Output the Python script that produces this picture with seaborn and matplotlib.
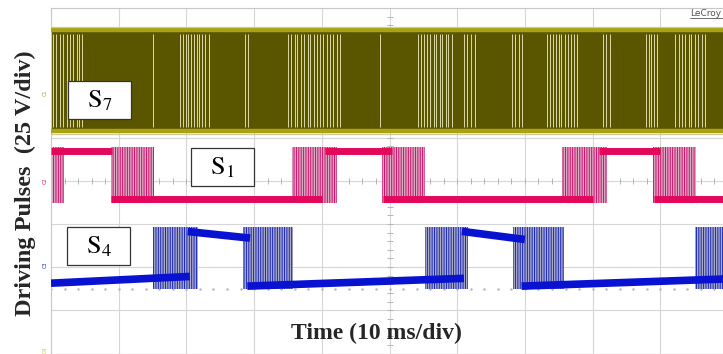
import numpy as np
import pandas as pd
import seaborn as sns
import matplotlib.pyplot as plt
from matplotlib.patches import Rectangle
from matplotlib.lines import Line2D

# scope screen: 10 ms/div x 10 div, 25 V/div x 8 div
t_lim = [0, 100]
v_lim = [-100, 100]

# S7 - dense PWM, looks like a filled band
s7_low, s7_high = 29.0, 87.0
s7_gaps = [0.3, 0.8, 1.3, 1.8, 2.3, 2.8, 3.3, 3.8, 4.2, 4.6,
           15.1,
           19.1, 19.5, 19.9, 20.3, 20.7, 21.1, 21.5, 21.9, 22.3, 22.8, 23.4,
           28.7, 29.1,
           35.0, 35.5, 36.0, 36.4, 36.9, 37.4, 37.9, 38.3, 38.8, 39.3, 39.8,
           40.2, 40.7, 41.2, 41.7, 42.2, 42.7,
           48.6,
           54.2, 54.7, 55.1, 55.6, 56.0, 56.5, 56.9, 57.4, 57.8, 58.3, 58.7, 59.2,
           61.0, 61.5, 62.1, 62.6,
           68.1, 68.6, 69.1, 69.6,
           73.3, 73.7, 74.1, 74.6, 75.0, 75.4, 75.9, 76.3, 76.8, 77.2, 77.7,
           81.5, 82.0, 82.6,
           87.9, 88.3, 88.7, 89.1, 89.5,
           92.2, 92.7, 93.2, 93.7, 94.2, 94.6, 95.1, 95.6, 96.1, 96.6]

# S1 - steady levels (segments) and switching windows
s1_t0 = [0.0, 8.9, 40.5, 49.0, 81.0, 89.0]
s1_t1 = [9.0, 40.0, 50.4, 80.0, 90.0, 100.0]
s1_v0 = [17.5, -10.5, 17.5, -10.5, 17.5, -10.5]
s1_v1 = [17.5, -10.5, 17.5, -10.5, 17.5, -10.5]
s1_sw_start = [0.0, 8.9, 35.6, 48.9, 75.5, 88.9]
s1_sw_end = [1.9, 15.2, 42.2, 55.2, 82.1, 95.3]
s1_sw_lo, s1_sw_hi = -13.0, 19.5

# S4 - sloped levels and switching windows
s4_t0 = [0.0, 20.2, 29.0, 60.7, 69.5]
s4_t1 = [20.5, 29.4, 61.0, 70.0, 100.0]
s4_v0 = [-59.3, -29.4, -61.0, -29.3, -61.0]
s4_v1 = [-55.4, -33.2, -56.5, -34.0, -56.8]
s4_sw_start = [15.1, 28.4, 55.2, 68.2, 95.1]
s4_sw_end = [21.7, 35.7, 61.6, 75.8, 100.0]
s4_sw_lo, s4_sw_hi = -62.5, -26.5


def segments(t0, t1, v0, v1):
    rows = []
    for i, (a, b, c, d) in enumerate(zip(t0, t1, v0, v1)):
        rows.append({'seg': i, 't': a, 'v': c})
        rows.append({'seg': i, 't': b, 'v': d})
    return pd.DataFrame(rows)


sns.set_style('white')
plt.rcParams['mathtext.fontset'] = 'stix'
plt.rcParams['hatch.linewidth'] = 0.7

fig = plt.figure(figsize=(7.23, 3.54), dpi=100)
ax = fig.add_axes([51 / 723, 0.5 / 354, 677 / 723, 345.5 / 354])
ax.set_xlim(t_lim)
ax.set_ylim(v_lim)
ax.set_xticks(np.arange(0, 101, 10))
ax.set_yticks(np.arange(-100, 101, 25))
ax.tick_params(length=0, labelbottom=False, labelleft=False)
ax.grid(True, color='#d6d6d6', lw=0.8)
ax.set_axisbelow(True)
for s in ax.spines.values():
    s.set_color('#c8c8c8')
    s.set_linewidth(0.8)

# graticule centre lines with minor ticks
ax.plot(np.arange(0, 101, 2), np.zeros(51), ls='none', marker='|', ms=4,
        mew=0.7, color='#b4b4b4', zorder=1)
ax.plot(np.full(41, 50), np.arange(-100, 101, 5), ls='none', marker='_', ms=4,
        mew=0.7, color='#b4b4b4', zorder=1)
ax.plot(np.arange(0, 101, 2), np.full(51, -62.5), ls='none', marker='.', ms=1.5,
        color='#b4b4b4', zorder=1)

# S7 band
ax.fill_between(t_lim, s7_low, s7_high, color='#5a5600', lw=0, zorder=2)
ax.vlines(s7_gaps, s7_low + 2, s7_high - 2, color='#dcd9a6', lw=0.7, zorder=3)
ax.hlines([s7_high, s7_low], 0, 100, color='#a9a212', lw=3.2, zorder=3)
ax.hlines([s7_high + 2.0, s7_low - 2.0], 0, 100, color='#cfcc9a', lw=0.9, zorder=3)

# S1
for a, b in zip(s1_sw_start, s1_sw_end):
    ax.fill_between([a, b], s1_sw_lo, s1_sw_hi, facecolor='#ddaac3',
                    edgecolor='#c8106a', hatch='|' * 7, lw=0, zorder=2)
sns.lineplot(data=segments(s1_t0, s1_t1, s1_v0, s1_v1), x='t', y='v', units='seg',
             estimator=None, sort=False, color='#e4085c', lw=5.0, ax=ax,
             legend=False, zorder=4, solid_capstyle='butt')

# S4
for a, b in zip(s4_sw_start, s4_sw_end):
    ax.fill_between([a, b], s4_sw_lo, s4_sw_hi, facecolor='#a9abcb',
                    edgecolor='#1a26b0', hatch='|' * 7, lw=0, zorder=2)
sns.lineplot(data=segments(s4_t0, s4_t1, s4_v0, s4_v1), x='t', y='v', units='seg',
             estimator=None, sort=False, color='#0a12d2', lw=5.5, ax=ax,
             legend=False, zorder=4, solid_capstyle='butt')
ax.set_xlabel('')
ax.set_ylabel('')

# channel labels in boxes
boxes = [(r'$\mathrm{S}_7$', 2.5, 35.6), (r'$\mathrm{S}_1$', 20.7, -3.2),
         (r'$\mathrm{S}_4$', 2.4, -49.0)]
for txt, x0, y0 in boxes:
    ax.add_patch(Rectangle((x0, y0), 9.3, 22.2, facecolor='white',
                           edgecolor='#333333', lw=0.9, zorder=6))
    ax.text(x0 + 4.65, y0 + 11.1, txt, fontsize=19, ha='center', va='center',
            color='black', zorder=7)

# channel markers on the left edge
for name, v, c in [('C1', 51, '#a8a020'), ('C2', 0, '#e0106a'),
                   ('C3', -48.5, '#2030c0'), ('C4', -98, '#c8c040')]:
    ax.text(-0.9, v, name, fontsize=3.5, rotation=90, color=c, ha='center',
            va='center', clip_on=False)

ax.text(48, -88.4, 'Time (10 ms/div)', fontsize=17, fontweight='bold',
        family='Liberation Serif', ha='center', va='center', zorder=7)
fig.text(25 / 723, 1 - 183 / 354, 'Driving Pulses  (25 V/div)', rotation=90,
         fontsize=17.5, fontweight='bold', family='Liberation Serif',
         ha='center', va='center')
fig.text(690 / 723, 1 - 13 / 354, 'LeCroy', fontsize=6.5, color='#555555',
         ha='left', va='center')
fig.add_artist(Line2D([690 / 723, 1.0], [1 - 18 / 354] * 2, color='#555555', lw=0.6))

fig.savefig('out.png', dpi=100)
